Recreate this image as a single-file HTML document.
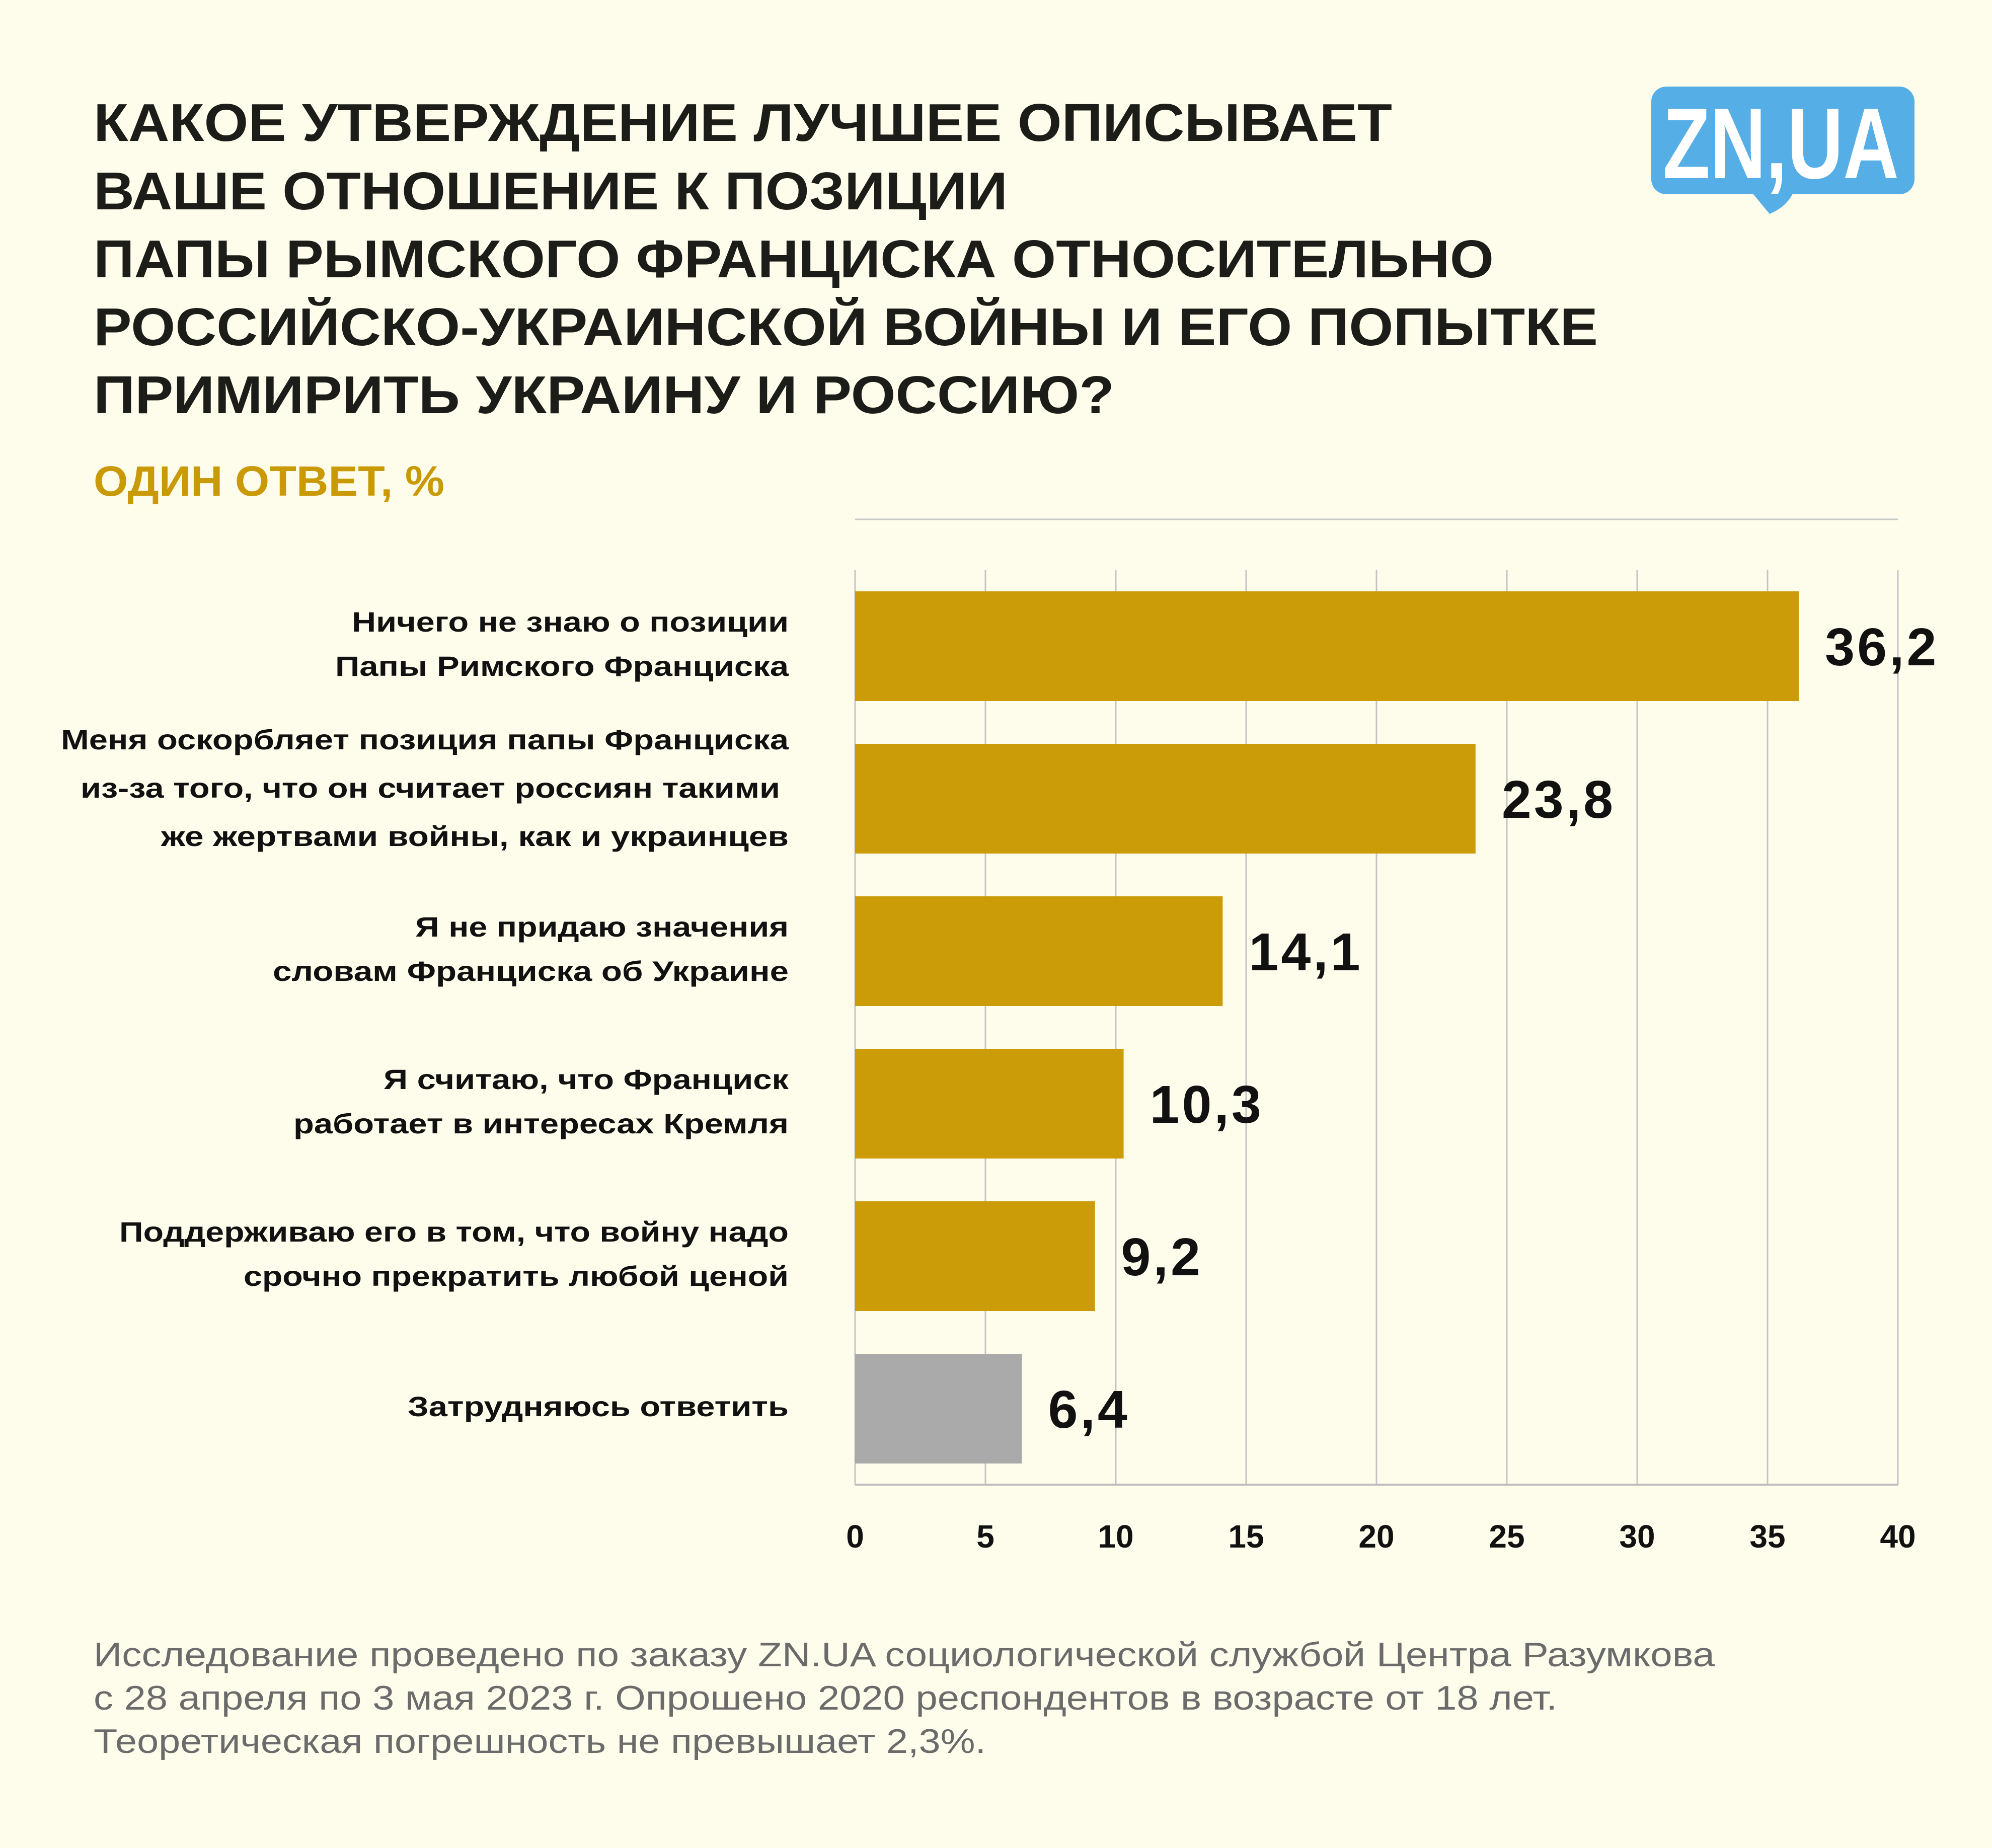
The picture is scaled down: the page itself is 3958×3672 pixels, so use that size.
<!DOCTYPE html>
<html><head><meta charset="utf-8"><style>
html,body{margin:0;padding:0;background:#FEFDEC;}
svg{display:block;}
text{font-family:"Liberation Sans",sans-serif;}
</style></head><body>
<svg id="chart" width="3958" height="3672" viewBox="0 0 3958 3672" xmlns="http://www.w3.org/2000/svg">
<rect x="0" y="0" width="3958" height="3672" fill="#FEFDEC"/>
<g fill="#1c1d19" font-weight="bold" font-size="106">
<text x="186" y="280" textLength="2580" lengthAdjust="spacingAndGlyphs">КАКОЕ УТВЕРЖДЕНИЕ ЛУЧШЕЕ ОПИСЫВАЕТ</text>
<text x="186" y="416" textLength="1816" lengthAdjust="spacingAndGlyphs">ВАШЕ ОТНОШЕНИЕ К ПОЗИЦИИ</text>
<text x="186" y="551" textLength="2782" lengthAdjust="spacingAndGlyphs">ПАПЫ РЫМСКОГО ФРАНЦИСКА ОТНОСИТЕЛЬНО</text>
<text x="186" y="686" textLength="2989" lengthAdjust="spacingAndGlyphs">РОССИЙСКО-УКРАИНСКОЙ ВОЙНЫ И ЕГО ПОПЫТКЕ</text>
<text x="186" y="821" textLength="2028" lengthAdjust="spacingAndGlyphs">ПРИМИРИТЬ УКРАИНУ И РОССИЮ?</text>
</g>
<text x="186" y="985" font-size="84" font-weight="bold" fill="#C99A06" textLength="697" lengthAdjust="spacingAndGlyphs">ОДИН ОТВЕТ, %</text>
<g>
<rect x="3281" y="172" width="523" height="214" rx="30" fill="#55AEE6"/>
<path d="M3483 385 L3516 425 Q3548 412 3562 385 Z" fill="#55AEE6"/>
<text x="3304" y="354" font-size="200" font-weight="bold" fill="#ffffff" textLength="469" lengthAdjust="spacingAndGlyphs">ZN,UA</text>
</g>
<line x1="1699" y1="1032" x2="3771" y2="1032" stroke="#C8C8C8" stroke-width="3"/>
<g id="grid"></g>
<g id="bars"></g>
<g id="labels" font-size="56" font-weight="bold" fill="#111" text-anchor="end"></g>
<g id="ticks"></g>
<g fill="#6b6b6b" font-size="68">
<text x="186" y="3311" textLength="3221" lengthAdjust="spacingAndGlyphs">Исследование проведено по заказу ZN.UA социологической службой Центра Разумкова</text>
<text x="186" y="3397" textLength="2908" lengthAdjust="spacingAndGlyphs">с 28 апреля по 3 мая 2023 г. Опрошено 2020 респондентов в возрасте от 18 лет.</text>
<text x="186" y="3483" textLength="1773" lengthAdjust="spacingAndGlyphs">Теоретическая погрешность не превышает 2,3%.</text>
</g>
</svg>
<script>
const categories = [
  ["Ничего не знаю о позиции","Папы Римского Франциска"],
  ["Меня оскорбляет позиция папы Франциска","из-за того, что он считает россиян такими","же жертвами войны, как и украинцев"],
  ["Я не придаю значения","словам Франциска об Украине"],
  ["Я считаю, что Франциск","работает в интересах Кремля"],
  ["Поддерживаю его в том, что войну надо","срочно прекратить любой ценой"],
  ["Затрудняюсь ответить"]
];
const values = [36.2, 23.8, 14.1, 10.3, 9.2, 6.4];
const valueLabels = ["36,2","23,8","14,1","10,3","9,2","6,4"];
const highlight = [false,false,false,false,false,true];
const tickValues = [0,5,10,15,20,25,30,35,40];

// rendered label widths (layout, in px)
const labelWidths = [[868,901],[1446,1390,1247],[742,1025],[805,984],[1330,1083],[757]];
const labelRight = [[1567,1567],[1567,1550,1567],[1567,1567],[1567,1567],[1567,1567],[1567]];

const NS = "http://www.w3.org/2000/svg";
const X0 = 1699, X1 = 3771, XMAX = 40;
const TOP = 1175, PITCH = 303, BH = 218;
function xs(v){ return X0 + (X1 - X0) * v / XMAX; }
function yBand(i){ return TOP + PITCH * i; }
function mk(tag, attrs, parent){
  const e = document.createElementNS(NS, tag);
  for (const k in attrs) e.setAttribute(k, attrs[k]);
  parent.appendChild(e);
  return e;
}
const grid = document.getElementById('grid');
const bars = document.getElementById('bars');
const labels = document.getElementById('labels');
const ticks = document.getElementById('ticks');

tickValues.forEach(t => {
  const l = mk('line', {x1: xs(t), x2: xs(t), y1: 1133, y2: 2950, stroke: '#C4C4C4', 'stroke-width': 3}, grid);
  
  
  const tx = mk('text', {x: xs(t), y: 3075, 'text-anchor': 'middle', 'font-size': 64, 'font-weight': 'bold', fill: '#111'}, ticks);
  tx.textContent = String(t);
  
  
});
const ax = mk('line', {x1: X0, x2: X1, y1: 2950, y2: 2950, stroke: '#BDBDBD', 'stroke-width': 4}, grid);



values.forEach((v, i) => {
  const y = yBand(i);
  const r = mk('rect', {x: X0, y: y, width: xs(v) - X0, height: BH, fill: highlight[i] ? '#AAAAAA' : '#CB9C08'}, bars);
  
  
  const vt = mk('text', {x: xs(v) + 52, y: y + BH/2 + 38, 'font-size': 106, 'font-weight': 'bold', fill: '#111', 'letter-spacing': 5}, bars);
  vt.textContent = valueLabels[i];
  
  
  const lines = categories[i];
  const sp = lines.length === 3 ? 96 : 88;
  const cy = y + BH/2 - (lines.length === 3 ? 22 : 5);
  lines.forEach((ln, j) => {
    const ly = cy + (j - (lines.length - 1)/2) * sp + 20;
    const t = mk('text', {x: labelRight[i][j], y: ly, textLength: labelWidths[i][j], lengthAdjust: 'spacingAndGlyphs'}, labels);
    t.textContent = ln;
    
    
  });
});
</script>
</body></html>
